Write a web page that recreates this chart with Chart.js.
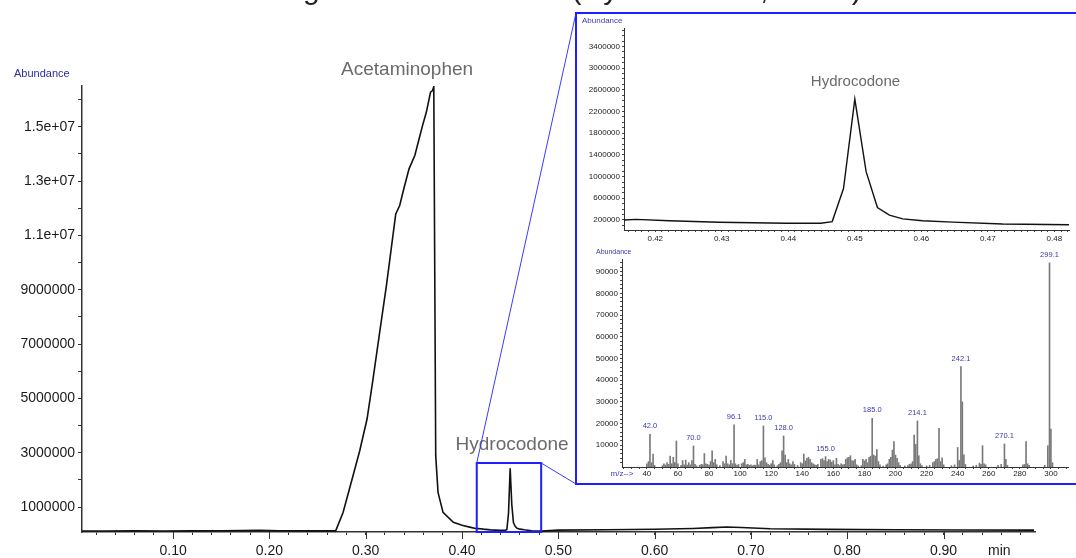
<!DOCTYPE html>
<html>
<head>
<meta charset="utf-8">
<script src="https://cdn.jsdelivr.net/npm/chart.js@4.4.1/dist/chart.umd.min.js"></script>
<style>
  html, body { margin: 0; padding: 0; background: #fff; overflow: hidden; }
  #wrap { position: relative; width: 1076px; height: 558px; overflow: hidden; background: #fff; }
  #main { position: absolute; left: 0; top: 0; }
  #zoomBox { position: absolute; left: 575px; top: 12px; width: 520px; height: 473px;
             border: 2px solid #1e1eff; box-sizing: border-box; background: #fff; }
  #ticCanvas { position: absolute; left: 577px; top: 14px; }
  #specCanvas { position: absolute; left: 577px; top: 246px; }
</style>
</head>
<body>
<div id="wrap">
  <canvas id="main" width="1076" height="558"></canvas>
  <div id="zoomBox"></div>
  <canvas id="ticCanvas" width="499" height="232"></canvas>
  <canvas id="specCanvas" width="499" height="236"></canvas>
</div>
<script>
const FONT = "'Liberation Sans', Arial, sans-serif";

// Total ion chromatogram: retention time (min) and abundance
const ticTime = [0.005, 0.03, 0.06, 0.09, 0.12, 0.15, 0.17, 0.19, 0.21, 0.24,
  0.2688, 0.2765, 0.285, 0.2938, 0.3014, 0.3076, 0.3145, 0.3215, 0.3312, 0.3353,
  0.3395, 0.345, 0.351, 0.3554, 0.359, 0.363, 0.3673, 0.3694, 0.3707, 0.3727,
  0.3751, 0.3803, 0.391, 0.40, 0.408, 0.4152, 0.4171, 0.4221, 0.4296, 0.4397,
  0.4449, 0.4466, 0.4483, 0.4500, 0.4517, 0.4534, 0.4552, 0.4572, 0.4602, 0.4647,
  0.4722, 0.4822, 0.50, 0.55, 0.60, 0.64, 0.66, 0.675, 0.69, 0.72,
  0.78, 0.85, 0.92, 0.994];
const ticAbund = [115000, 118000, 120000, 117000, 120000, 124000, 130000, 138000, 125000, 120000,
  120000, 800000, 1910000, 3070000, 4240000, 5710000, 7430000, 9150000, 11790000, 12100000,
  12710000, 13450000, 13940000, 14550000, 15040000, 15540000, 16270000, 16330000, 16480000, 2890000,
  1540000, 800000, 440000, 330000, 260000, 200000, 210000, 185000, 157000, 139000,
  139000, 170000, 780000, 2430000, 1090000, 430000, 290000, 220000, 185000, 160000,
  126000, 113000, 150000, 165000, 180000, 210000, 240000, 265000, 245000, 200000,
  175000, 165000, 155000, 150000];

// Main chromatogram tick labels
const mainXTicks = [0.10, 0.20, 0.30, 0.40, 0.50, 0.60, 0.70, 0.80, 0.90];
const mainXLabels = ['0.10', '0.20', '0.30', '0.40', '0.50', '0.60', '0.70', '0.80', '0.90'];
const mainYTicks = [1000000, 3000000, 5000000, 7000000, 9000000, 11000000, 13000000, 15000000];
const mainYLabels = ['1000000', '3000000', '5000000', '7000000', '9000000', '1.1e+07', '1.3e+07', '1.5e+07'];

// Enlarged window around the hydrocodone peak
const zoomStart = 0.4153;
const zoomEnd = 0.4822;
const zoomBoxTop = 2620000;
const zoomXTicks = [0.42, 0.43, 0.44, 0.45, 0.46, 0.47, 0.48];
const zoomXLabels = ['0.42', '0.43', '0.44', '0.45', '0.46', '0.47', '0.48'];
const zoomYTicks = [200000, 600000, 1000000, 1400000, 1800000, 2200000, 2600000, 3000000, 3400000];
const zoomYLabels = ['200000', '600000', '1000000', '1400000', '1800000', '2200000', '2600000', '3000000', '3400000'];

// Mass spectrum of the hydrocodone peak
const specMz = [40, 41, 42.0, 43, 44, 45, 50, 51, 52, 53, 54, 55, 56, 57, 58, 59, 60, 62, 63, 64,
  65, 66, 67, 68, 69, 70.0, 71, 72, 74, 75, 76, 77, 78, 79, 80, 81, 82, 83, 84, 85,
  87, 89, 90, 91, 92, 93, 94, 95, 96.1, 97, 98, 99, 101, 102, 103, 104, 105, 106, 107, 108,
  109, 110, 111, 112, 113, 114, 115.0, 116, 117, 118, 119, 120, 121, 122, 124, 125, 126, 127, 128.0, 129,
  130, 131, 132, 133, 134, 135, 137, 139, 140, 141, 142, 143, 144, 145, 146, 147, 148, 149, 150, 152,
  153, 154, 155.0, 156, 157, 158, 159, 160, 161, 162, 163, 164, 165, 166, 167, 168, 169, 170, 171, 172,
  173, 174, 175, 176, 178, 179, 180, 181, 182, 183, 184, 185.0, 186, 187, 188, 189, 190, 192, 194, 195,
  196, 197, 198, 199, 200, 201, 202, 203, 206, 208, 209, 210, 211, 212, 213, 214.1, 215, 216, 217, 220,
  222, 224, 225, 226, 227, 228, 229, 230, 231, 236, 238, 240, 241, 242.1, 243, 244, 245, 250, 252, 254,
  255, 256, 257, 258, 266, 268, 270.1, 271, 272, 282, 283, 284, 285, 286, 296, 298, 299.1, 300, 301];
const specAbund = [1500, 2500, 15000, 2000, 6000, 800, 600, 1500, 900, 2000, 1200, 5000, 1500, 4500, 2000, 12000, 1500, 800, 3000, 1000,
  3200, 900, 2000, 1000, 3000, 9700, 1200, 500, 800, 1200, 1000, 6200, 1500, 1200, 900, 2500, 7500, 2000, 3500, 1000,
  600, 2500, 1500, 5000, 1500, 1000, 3000, 1500, 19400, 1500, 800, 1200, 1500, 2000, 3500, 1000, 1200, 800, 1000, 600,
  900, 800, 3500, 1000, 2500, 3000, 18900, 4200, 2000, 1200, 800, 1500, 3000, 1000, 600, 1200, 2000, 7500, 14300, 5500,
  2000, 3500, 1500, 1000, 2500, 1200, 800, 2000, 1500, 6000, 2800, 4000, 4500, 3500, 2000, 1500, 1000, 800, 1200, 3500,
  3800, 3000, 4800, 2500, 3500, 3200, 2200, 3000, 1000, 4000, 1200, 600, 1500, 1000, 1200, 3500, 4200, 4500, 5200, 3000,
  2800, 3500, 1000, 500, 600, 3500, 2800, 3500, 2000, 4500, 5000, 22400, 5500, 5000, 8000, 2500, 1000, 400, 1000, 1500,
  3500, 4500, 7800, 11700, 5500, 4000, 2000, 800, 500, 700, 1200, 1500, 2500, 14700, 10400, 21200, 5200, 1500, 600, 500,
  800, 2000, 2500, 3500, 3800, 17800, 2500, 4200, 1000, 600, 1000, 9000, 3000, 46200, 30000, 5600, 1200, 500, 800, 1800,
  1200, 9800, 1500, 1000, 800, 1200, 10600, 3500, 800, 1000, 1200, 11700, 1500, 800, 800, 9800, 94000, 17500, 2000];
const specPeakMz = [42.0, 70.0, 96.1, 115.0, 128.0, 155.0, 185.0, 214.1, 242.1, 270.1, 299.1];
const specPeakText = ['42.0', '70.0', '96.1', '115.0', '128.0', '155.0', '185.0', '214.1', '242.1', '270.1', '299.1'];
const specXTicks = [40, 60, 80, 100, 120, 140, 160, 180, 200, 220, 240, 260, 280, 300];
const specYTicks = [10000, 20000, 30000, 40000, 50000, 60000, 70000, 80000, 90000];

const titleText = 'Analgesic Tablet Extract (Hydrocodone, 5/325)';

function font(size) { return { family: FONT, size: size }; }
function labelFor(ticks, labels, v, eps) {
  const i = ticks.findIndex(t => Math.abs(t - v) < eps);
  return i < 0 ? '' : labels[i];
}
function evenTicks(from, to, step) {
  const out = [];
  const n = Math.round((to - from) / step);
  for (let k = 0; k <= n; k++) out.push({ value: from + k * step });
  return out;
}
const ticPoints = ticTime.map((t, i) => ({ x: t, y: ticAbund[i] }));

// ---- Main chromatogram ----
const mainDecor = {
  id: 'mainDecor',
  afterDraw(chart) {
    const { ctx, chartArea: a } = chart;
    const x = chart.scales.x, y = chart.scales.y;
    ctx.save();
    // longer marks for the labelled times
    ctx.strokeStyle = '#333'; ctx.lineWidth = 1;
    mainXTicks.forEach(v => {
      const px = Math.round(x.getPixelForValue(v)) + 0.5;
      ctx.beginPath(); ctx.moveTo(px, a.bottom); ctx.lineTo(px, a.bottom + 7); ctx.stroke();
    });
    // title (runs off the top edge)
    ctx.fillStyle = '#222'; ctx.font = '30px ' + FONT;
    ctx.textAlign = 'left'; ctx.textBaseline = 'alphabetic';
    ctx.fillText(titleText, 243, -1);
    // axis caption
    ctx.fillStyle = '#2d2d9a'; ctx.font = '11px ' + FONT; ctx.textBaseline = 'middle';
    ctx.fillText('Abundance', 14, 74);
    // compound names
    ctx.fillStyle = '#6b6b6b'; ctx.font = '19px ' + FONT; ctx.textAlign = 'center';
    ctx.fillText('Acetaminophen', x.getPixelForValue(0.343), y.getPixelForValue(17100000));
    ctx.fillText('Hydrocodone', x.getPixelForValue(0.452), y.getPixelForValue(3280000));
    // unit
    ctx.fillStyle = '#1a1a1a'; ctx.font = '14px ' + FONT;
    ctx.fillText('min', x.getPixelForValue(0.958), 551);
    // enlarged region frame
    const bx0 = x.getPixelForValue(zoomStart), bx1 = x.getPixelForValue(zoomEnd);
    const by0 = y.getPixelForValue(zoomBoxTop), by1 = a.bottom;
    ctx.strokeStyle = '#1e1eff'; ctx.lineWidth = 2;
    ctx.strokeRect(bx0, by0, bx1 - bx0, by1 - by0);
    const box = document.getElementById('zoomBox');
    ctx.lineWidth = 1; ctx.strokeStyle = '#3a3aff';
    ctx.beginPath();
    ctx.moveTo(bx0, by0); ctx.lineTo(box.offsetLeft + 1, box.offsetTop + 1);
    ctx.moveTo(bx1, by0); ctx.lineTo(box.offsetLeft + 1, box.offsetTop + box.offsetHeight - 1);
    ctx.stroke();
    ctx.restore();
  }
};

new Chart(document.getElementById('main'), {
  type: 'line',
  data: { datasets: [{ data: ticPoints, borderColor: '#111', borderWidth: 1.6, pointRadius: 0, tension: 0, fill: false }] },
  options: {
    responsive: false, animation: false, devicePixelRatio: 1,
    layout: { padding: { top: 86, right: 41, left: 0, bottom: 0 } },
    plugins: { legend: { display: false }, tooltip: { enabled: false } },
    scales: {
      x: {
        type: 'linear', min: 0.0054, max: 0.995,
        afterBuildTicks: s => { s.ticks = evenTicks(0.02, 0.98, 0.02); },
        afterFit: s => { s.height = 26; },
        ticks: { autoSkip: false, maxRotation: 0, minRotation: 0, padding: 8, color: '#1a1a1a', font: font(14),
          callback: v => labelFor(mainXTicks, mainXLabels, v, 1e-6) },
        grid: { drawOnChartArea: false, drawTicks: true, tickLength: 3, color: '#333' },
        border: { display: true, color: '#333', width: 1.5 }
      },
      y: {
        type: 'linear', min: 80000, max: 16500000,
        afterBuildTicks: s => { s.ticks = evenTicks(1000000, 16000000, 1000000); },
        afterFit: s => { s.width = 82; },
        ticks: { autoSkip: false, padding: 3, color: '#1a1a1a', font: font(14),
          callback: v => labelFor(mainYTicks, mainYLabels, v, 1) },
        grid: { drawOnChartArea: false, drawTicks: true, tickLength: 4, color: '#333' },
        border: { display: true, color: '#333', width: 1.5 }
      }
    }
  },
  plugins: [mainDecor]
});

// ---- Enlarged chromatogram ----
const zoomDecor = {
  id: 'zoomDecor',
  afterDraw(chart) {
    const { ctx } = chart;
    const x = chart.scales.x, y = chart.scales.y;
    ctx.save();
    ctx.fillStyle = '#3a3ab0'; ctx.font = '8px ' + FONT;
    ctx.textAlign = 'left'; ctx.textBaseline = 'middle';
    ctx.fillText('Abundance', 5, 7);
    ctx.fillStyle = '#6b6b6b'; ctx.font = '15px ' + FONT; ctx.textAlign = 'center';
    ctx.fillText('Hydrocodone', x.getPixelForValue(0.4501), y.getPixelForValue(2740000));
    ctx.restore();
  }
};

new Chart(document.getElementById('ticCanvas'), {
  type: 'line',
  data: { datasets: [{ data: ticPoints, borderColor: '#111', borderWidth: 1.4, pointRadius: 0, tension: 0, fill: false }] },
  options: {
    responsive: false, animation: false, devicePixelRatio: 1,
    layout: { padding: { top: 14, right: 7, left: 0, bottom: 0 } },
    plugins: { legend: { display: false }, tooltip: { enabled: false } },
    scales: {
      x: {
        type: 'linear', min: zoomStart, max: zoomEnd,
        afterBuildTicks: s => { s.ticks = evenTicks(0.416, 0.482, 0.001); },
        afterFit: s => { s.height = 16; },
        ticks: { autoSkip: false, maxRotation: 0, minRotation: 0, padding: 2, color: '#222', font: font(8),
          callback: v => labelFor(zoomXTicks, zoomXLabels, v, 1e-7) },
        grid: { drawOnChartArea: false, drawTicks: true, tickLength: 2, color: '#444' },
        border: { display: true, color: '#333', width: 1 }
      },
      y: {
        type: 'linear', min: 15000, max: 3740000,
        afterBuildTicks: s => { s.ticks = evenTicks(100000, 3700000, 100000); },
        afterFit: s => { s.width = 47; },
        ticks: { autoSkip: false, padding: 2, color: '#222', font: font(8),
          callback: v => labelFor(zoomYTicks, zoomYLabels, v, 1) },
        grid: { drawOnChartArea: false, drawTicks: true, tickLength: 2, color: '#444' },
        border: { display: true, color: '#333', width: 1 }
      }
    }
  },
  plugins: [zoomDecor]
});

// ---- Mass spectrum ----
const specDecor = {
  id: 'specDecor',
  afterDraw(chart) {
    const { ctx } = chart;
    const x = chart.scales.x, y = chart.scales.y;
    ctx.save();
    ctx.fillStyle = '#3a3ab0'; ctx.textBaseline = 'middle';
    ctx.font = '7px ' + FONT; ctx.textAlign = 'left';
    ctx.fillText('Abundance', 19, 6);
    ctx.font = '8px ' + FONT; ctx.textAlign = 'center';
    ctx.fillText('m/z-->', 45, 228);
    ctx.font = '7.5px ' + FONT;
    specPeakMz.forEach((mz, i) => {
      const j = specMz.indexOf(mz);
      ctx.fillText(specPeakText[i], x.getPixelForValue(mz), y.getPixelForValue(specAbund[j]) - 8);
    });
    ctx.restore();
  }
};

new Chart(document.getElementById('specCanvas'), {
  type: 'bar',
  data: { datasets: [{ data: specMz.map((m, i) => ({ x: m, y: specAbund[i] })),
    backgroundColor: '#7a7a7a', borderWidth: 0, barThickness: 1 }] },
  options: {
    responsive: false, animation: false, devicePixelRatio: 1,
    layout: { padding: { top: 13, right: 8, left: 0, bottom: 0 } },
    plugins: { legend: { display: false }, tooltip: { enabled: false } },
    scales: {
      x: {
        type: 'linear', min: 24, max: 311, offset: false,
        afterBuildTicks: s => { s.ticks = evenTicks(25, 310, 5); },
        afterFit: s => { s.height = 15; },
        ticks: { autoSkip: false, maxRotation: 0, minRotation: 0, padding: 0, color: '#222', font: font(8),
          callback: v => labelFor(specXTicks, specXTicks.map(String), v, 1e-6) },
        grid: { drawOnChartArea: false, drawTicks: true, tickLength: 2, color: '#444', offset: false },
        border: { display: true, color: '#333', width: 1 }
      },
      y: {
        type: 'linear', min: 0, max: 95800,
        afterBuildTicks: s => { s.ticks = evenTicks(2000, 94000, 2000); },
        afterFit: s => { s.width = 45; },
        ticks: { autoSkip: false, padding: 2, color: '#222', font: font(8),
          callback: v => labelFor(specYTicks, specYTicks.map(String), v, 1) },
        grid: { drawOnChartArea: false, drawTicks: true, tickLength: 2, color: '#444' },
        border: { display: true, color: '#333', width: 1 }
      }
    }
  },
  plugins: [specDecor]
});
</script>
</body>
</html>
